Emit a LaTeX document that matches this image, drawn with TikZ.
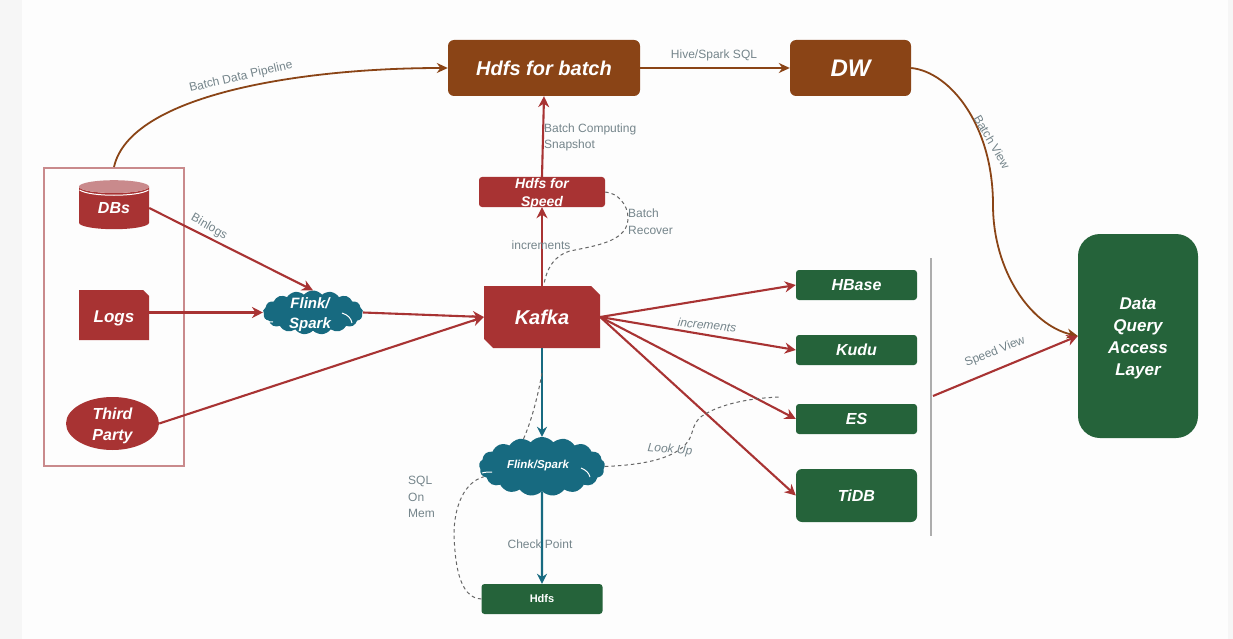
\documentclass[tikz,border=0pt]{standalone}
\usepackage{fontspec}
\setmainfont{Liberation Sans}
\usetikzlibrary{arrows.meta,shapes.geometric,shapes.misc,shapes.symbols}
\definecolor{rd}{HTML}{A83333}
\definecolor{rdl}{HTML}{C98A8C}
\definecolor{brn}{HTML}{8A4416}
\definecolor{grn}{HTML}{25633A}
\definecolor{tea}{HTML}{176A80}
\definecolor{lbl}{HTML}{75858B}
\definecolor{bgm}{HTML}{F6F6F6}
\definecolor{bgw}{HTML}{FDFDFD}
\newcommand{\fs}[2]{\fontsize{#1}{#2}\selectfont}
\newcommand{\up}[1]{\rule{0pt}{#1pt}}
\tikzset{
  x=1pt,y=-1pt,
  nd/.style={text=white,font=\bfseries\itshape,inner sep=0pt,align=center,anchor=center},
  rbox/.style={nd,rectangle,rounded corners=#1},
  rbox/.default=3pt,
  brownbox/.style={rbox=6pt,fill=brn,font=\fs{20}{24}\bfseries\itshape},
  greenbox/.style={rbox=3pt,fill=grn,minimum width=121pt,font=\fs{16}{20}\bfseries\itshape},
  redbox/.style={nd,fill=rd},
  redcham/.style={redbox,chamfered rectangle},
  cloudy/.style={nd,cloud,cloud puffs=17,cloud puff arc=100,fill=tea,aspect=2.4},
  lab/.style={text=lbl,font=\fs{12}{16},inner sep=0pt,align=left},
  arr/.style={-{Stealth[length=11pt,width=11pt]},line width=2.1pt,draw=rd},
  arrb/.style={-{Stealth[length=11pt,width=10pt]},line width=1.8pt,draw=brn},
  arrt/.style={-{Stealth[length=10pt,width=10pt]},line width=2.1pt,draw=tea},
  dsh/.style={dash pattern=on 3.5pt off 3pt,line width=1pt,draw=black!60},
  seam/.style={draw=white,line width=1pt},
}
\begin{document}
\begin{tikzpicture}
\useasboundingbox (0,0) rectangle (1233,639);
\fill[bgm] (0,0) rectangle (1233,639);
\fill[bgw] (22,0) rectangle (1228,639);

% source frame
\node[draw=rdl,line width=1.2pt,minimum width=140pt,minimum height=298pt,inner sep=0pt] (srcframe) at (114,317) {};

% nodes
\node[brownbox,minimum width=192pt,minimum height=56pt] (batch) at (544,68) {Hdfs for batch};
\node[brownbox,minimum width=121pt,minimum height=56pt,font=\fs{24}{28}\bfseries\itshape] (dw) at (850.5,68) {DW};
\node[rbox=22pt,fill=grn,minimum width=120pt,minimum height=204pt,font=\fs{17}{22}\bfseries\itshape] (query) at (1138,336) {\up{17}Data\\Query\\Access\\Layer};
\node[greenbox,minimum height=30pt] (hbase) at (856.5,285) {HBase};
\node[greenbox,minimum height=30pt] (kudu) at (856.5,350) {Kudu};
\node[greenbox,minimum height=30pt] (es) at (856.5,419) {ES};
\node[greenbox,rounded corners=6pt,minimum height=53pt] (tidb) at (856.5,495.5) {TiDB};
\node[rbox=3pt,fill=grn,minimum width=121pt,minimum height=30pt,font=\fs{11}{13}\bfseries] (hdfs) at (542,599) {Hdfs};
\node[redcham,chamfered rectangle corners={north east,south west},chamfered rectangle xsep=4.5pt,chamfered rectangle ysep=4.5pt,minimum width=116pt,minimum height=62pt,font=\fs{20}{24}\bfseries\itshape] (kafka) at (542,317) {Kafka};
\node[rbox=3pt,fill=rd,minimum width=126pt,minimum height=30pt] (speed) at (542,192) {};
\node[nd,font=\fs{14}{18}\bfseries\itshape] (speedtext) at (542,193.5) {Hdfs for\\Speed};
\node[redcham,chamfered rectangle corners=north east,chamfered rectangle xsep=3pt,chamfered rectangle ysep=3pt,minimum width=70pt,minimum height=50pt,font=\fs{17}{20}\bfseries\itshape] (logs) at (114,315) {\up{18}Logs};
\node[nd,ellipse,fill=rd,minimum width=93pt,minimum height=53pt] (third) at (112.5,423.5) {};
\node[nd,font=\fs{16}{21}\bfseries\itshape] (thirdtext) at (112.5,425.5) {Third\\Party};
\node[nd,cylinder,shape border rotate=90,aspect=.4,cylinder uses custom fill,cylinder body fill=rd,cylinder end fill=rdl,minimum width=70pt,minimum height=49pt,font=\fs{16}{20}\bfseries\itshape] (dbs) at (114,208) {DBs};
\draw[draw=white,line width=1pt] (79.5,190) .. controls (90,197) and (138,197) .. (148.5,190);
\node[cloudy,minimum width=100pt,minimum height=44pt] (flinka) at (313,312.5) {};
\node[nd,font=\fs{15}{20}\bfseries\itshape] (flinkatext) at (310,315) {Flink/\\Spark};
\node[cloudy,minimum width=126pt,minimum height=59pt] (flinkb) at (542,466.5) {};
\node[nd,font=\fs{11.5}{13}\bfseries\itshape] (flinkbtext) at (538,466) {Flink/Spark};
\draw[seam] (342,313) .. controls (348,315) and (351,318) .. (352,323);
\draw[seam] (265,320) .. controls (268,322) and (271,322) .. (273,322);
\draw[seam] (581,468) .. controls (586,470) and (589,473) .. (590,477);
\draw[seam] (482,473) .. controls (485,472) and (489,472) .. (492,472);

% free ends
\coordinate (pipeup) at (114,167);
\coordinate (vtop) at (931,258);
\coordinate (vbot) at (931,536);
\coordinate (vmid) at (933,396);
\coordinate (esend) at (780,397);
\coordinate (flinktop) at (523,440);
\coordinate (kafkabot) at (542,373);

\draw[line width=1.4pt,draw=black!32] (vtop) -- (vbot);

% connectors
\draw[arrb] (pipeup) .. controls (130,95) and (300,68) .. (batch.west);
\draw[arrb] (batch.east) -- (dw.west);
\draw[arrb] (dw.east) .. controls (950,72) and (993,125) .. (993,205) .. controls (993,270) and (1030,325) .. (query.west);
\draw[arr] (vmid) -- (query.west);
\draw[arr] (dbs.east) -- (flinka.north);
\draw[arr] (logs.east |- flinka.west) -- (flinka.west);
\draw[arr] (flinka.east) -- (kafka.west);
\draw[arr] (third.east) -- (kafka.west);
\draw[arr] (kafka.north) -- (speed.south);
\draw[arr] (speed.north) -- (batch.south);
\draw[arr] (kafka.east) -- (hbase.west);
\draw[arr] (kafka.east) -- (kudu.west);
\draw[arr] (kafka.east) -- (es.west);
\draw[arr] (kafka.east) -- (tidb.west);
\draw[arrt] (kafka.south) -- (flinkb.north);
\draw[arrt] (flinkb.south) -- (hdfs.north);

% dashed
\draw[dsh] (speed.east) .. controls (618,193) and (628,205) .. (628,218) .. controls (628,240) and (600,245) .. (575,250) .. controls (560,252) and (548,262) .. (544,284);
\draw[dsh] (kafkabot) .. controls (538,395) and (532,420) .. (flinktop);
\draw[dsh] (flinkb.east) .. controls (640,465) and (670,460) .. (685,445) .. controls (695,435) and (690,425) .. (702,416) .. controls (720,404) and (750,398) .. (esend);
\draw[dsh] (hdfs.west) .. controls (458,598) and (455,560) .. (454,535) .. controls (454,505) and (465,482) .. (flinkb.190);

% labels
\node[lab,rotate=13] (l1) at (241,77) {Batch Data Pipeline};
\node[lab] (l2) at (714,55) {Hive/Spark SQL};
\node[lab,rotate=-60] (l3) at (992,142) {Batch View};
\node[lab,rotate=-30] (l4) at (209,227) {Binlogs};
\node[lab,anchor=north west] (l5) at (544,124) {Batch Computing\\Snapshot};
\node[lab,anchor=north west,font=\fs{12}{17}] (l6) at (628,209) {Batch\\Recover};
\node[lab] (l7) at (541,245) {increments};
\node[lab,font=\fs{12}{16}\itshape,rotate=-6] (l8) at (707,325) {increments};
\node[lab,rotate=22] (l9) at (995,352) {Speed View};
\node[lab,font=\fs{12}{16}\itshape,rotate=-5] (l10) at (670,450) {Look Up};
\node[lab] (l11) at (540,544) {Check Point};
\node[lab,anchor=north west,font=\fs{12}{16.5}] (l12) at (408,476) {SQL\\On\\Mem};
\end{tikzpicture}
\end{document}
